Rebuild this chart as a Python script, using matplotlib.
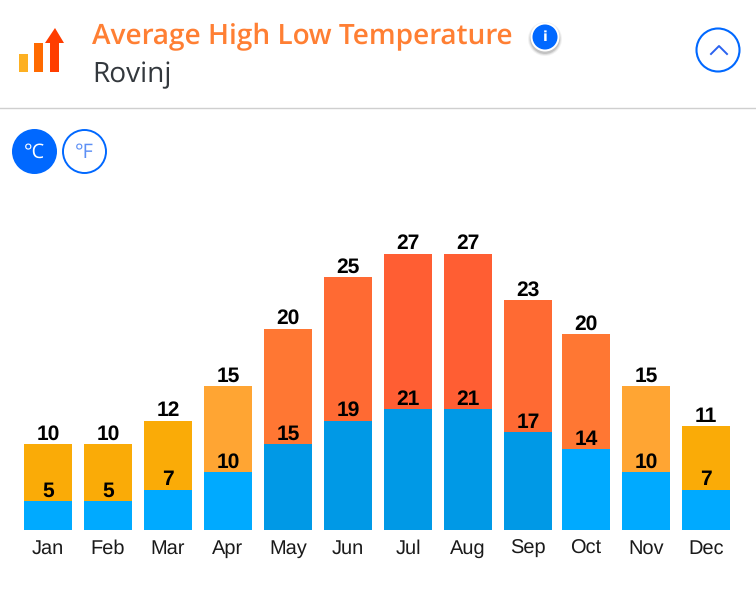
import matplotlib
matplotlib.use("Agg")
import matplotlib.pyplot as plt
from matplotlib.patches import Circle, Rectangle, Polygon

plt.rcParams["text.hinting"] = "no_hinting"
plt.rcParams["text.hinting_factor"] = 1

W, H = 756, 596

months = ["Jan", "Feb", "Mar", "Apr", "May", "Jun", "Jul", "Aug", "Sep", "Oct", "Nov", "Dec"]
low_temps = [5, 5, 7, 10, 15, 19, 21, 21, 17, 14, 10, 7]
high_temps = [10, 10, 12, 15, 20, 25, 27, 27, 23, 20, 15, 11]
low_colors = ["#00AAFF", "#00AAFF", "#00AAFF", "#00AAFF", "#0099E6", "#0099E6",
              "#0099E6", "#0099E6", "#0099E6", "#00AAFF", "#00AAFF", "#00AAFF"]
high_colors = ["#FAAB07", "#FAAB07", "#FAAB07", "#FFA533", "#FF7733", "#FF6A33",
               "#FF5E33", "#FF5E33", "#FF6A33", "#FF7733", "#FFA533", "#FAAB07"]

fig = plt.figure(figsize=(W / 100, H / 100), dpi=100, facecolor="white")

# header drawn in pixel coordinates
bg = fig.add_axes([0, 0, 1, 1])
bg.set_xlim(0, W)
bg.set_ylim(H, 0)
bg.axis("off")

bg.add_patch(Rectangle((19, 54), 9, 18, color="#FDB022", lw=0))
bg.add_patch(Rectangle((34, 43), 9, 29, color="#FF6A00", lw=0))
bg.add_patch(Polygon([(50, 72), (50, 43), (45, 43), (55, 28), (64, 43), (59, 43), (59, 72)],
                     color="#FF3D00", lw=0))

bg.text(92, 37, "Average High Low Temperature", family="Open Sans", fontsize=20.3,
        color="#FF7F33", va="center", ha="left", fontweight="semibold")
bg.text(92, 75, "Rovinj", family="Open Sans", fontsize=20, color="#33383D",
        va="center", ha="left")

# info button with soft shadow
for r, a in [(17, 0.05), (16, 0.08), (15, 0.12)]:
    bg.add_patch(Circle((545, 39), r, color="black", alpha=a, lw=0))
bg.add_patch(Circle((545, 37), 14.5, color="white", lw=0))
bg.add_patch(Circle((545, 37), 12.5, color="#0068FF", lw=0))
bg.text(545, 37, "i", family="DejaVu Sans", fontsize=10, fontweight="bold", color="white",
        ha="center", va="center")

# collapse button
bg.add_patch(Circle((718, 50), 21.5, fc="white", ec="#0068FF", lw=1.5))
bg.plot([711, 719, 727], [54, 46, 54], color="#2A62F0", lw=1.4)

bg.plot([0, W], [108, 108], color="#CFCFCF", lw=1)

# unit buttons
bg.add_patch(Circle((34.5, 151.5), 22.5, color="#0068FF", lw=0))
bg.text(34.5, 152.5, "°C", family="Open Sans", fontsize=14.5, color="white", ha="center",
        va="center")
bg.add_patch(Circle((84.5, 151.5), 21.5, fc="white", ec="#0068FF", lw=1.4))
bg.text(84.5, 152.5, "°F", family="Open Sans", fontsize=14.5, color="#5C8FF5", ha="center",
        va="center")

# stacked bars, about 5.75 px per unit, 60 px per month
px_per_unit = 5.755
y_max = 59
ax_h = y_max * px_per_unit
ax = fig.add_axes([18 / W, (H - 530) / H, 720 / W, ax_h / H])
ax.patch.set_alpha(0)
# last three months sit 2 px closer in the original layout
x = [i if i < 9 else i - 1 / 30 for i in range(len(months))]
ax.bar(x, low_temps, width=0.8, color=low_colors, lw=0)
ax.bar(x, high_temps, width=0.8, bottom=low_temps, color=high_colors, lw=0)
ax.set_xlim(-0.5, 11.5)
ax.set_ylim(0, y_max)
ax.set_yticks([])
ax.set_xticks(x)
ax.set_xticklabels(months, family="Liberation Sans", fontsize=14.5, color="#1A1A1A")
ax.tick_params(axis="x", length=0, pad=7)
for s in ax.spines.values():
    s.set_visible(False)

for i, xpos in enumerate(x):
    ax.text(xpos, low_temps[i], str(low_temps[i]), family="Liberation Sans", fontsize=15,
            fontweight="bold", color="black", ha="center", va="bottom")
    ax.text(xpos, low_temps[i] + high_temps[i], str(high_temps[i]), family="Liberation Sans",
            fontsize=15, fontweight="bold", color="black", ha="center", va="bottom")

fig.savefig("out.png", dpi=100)
